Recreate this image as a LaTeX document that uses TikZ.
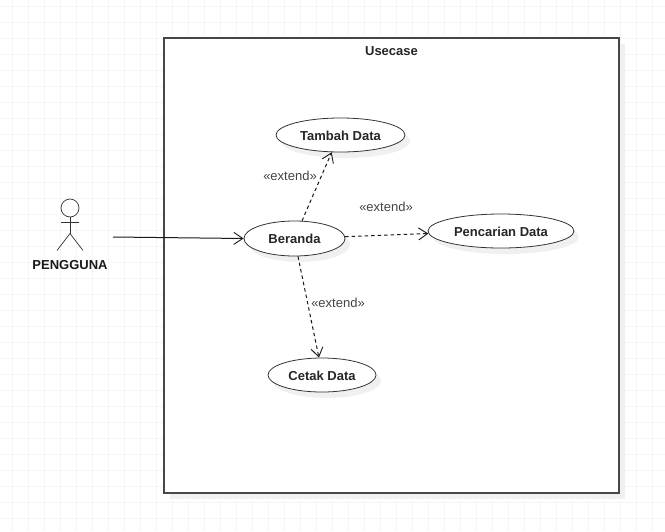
\documentclass[tikz,border=0pt]{standalone}
\usepackage{fontspec}
\setmainfont{Liberation Sans}
\usetikzlibrary{arrows.meta,shapes.geometric}
\definecolor{gridc}{HTML}{F5F5F5}
\definecolor{shadowc}{HTML}{F0F0F0}
\definecolor{linec}{HTML}{333333}
\definecolor{labelc}{HTML}{444444}
\tikzset{
  usecasebox/.style={ellipse,draw=linec,fill=white,line width=0.8pt,inner sep=0pt,text height=10.6pt,text depth=0pt,font=\fontsize{13}{15}\selectfont\bfseries,text=black!85},
  extlabel/.style={font=\fontsize{13}{15}\selectfont,text=labelc,inner sep=0pt},
  openhead/.style={-{Straight Barb[length=9pt,width=12pt,line width=0.9pt]}},
  assoc/.style={draw=black!90,line width=1pt,openhead},
  extendline/.style={draw=black!90,line width=1pt,dash pattern=on 3.5pt off 3pt,openhead},
  actorline/.style={draw=linec,line width=0.7pt},
  shadowfill/.style={fill=shadowc,draw=none}
}
\begin{document}
\begin{tikzpicture}[x=1pt,y=-1pt]
\useasboundingbox (0,0) rectangle (665,531);
\fill[white] (0,0) rectangle (665,531);
% grid
\foreach \i in {0,...,41} {\draw[gridc,line width=0.6pt] ({12.5+16*\i},0) -- ({12.5+16*\i},531);}
\foreach \j in {0,...,32} {\draw[gridc,line width=0.6pt] (0,{6.5+16*\j}) -- (665,{6.5+16*\j});}
% frame
\fill[shadowfill] (170,44) rectangle (625,499);
\node[draw=black!72,line width=1.1pt,fill=white,minimum width=455pt,minimum height=455pt,inner sep=0pt] (frame) at (391.5,265.5) {};
\node[font=\fontsize{13}{15}\selectfont\bfseries,text=black!85,inner sep=0pt] (title) at (391.5,50.7) {Usecase};
% shadows
\fill[shadowfill] (345.5,141) ellipse (64.5 and 17);
\fill[shadowfill] (299.5,244.5) ellipse (50.5 and 17.5);
\fill[shadowfill] (506,237) ellipse (73 and 17);
\fill[shadowfill] (327,381) ellipse (54 and 17);
% use cases
\node[usecasebox,minimum width=129pt,minimum height=34pt] (tambah) at (340.5,135) {Tambah Data};
\node[usecasebox,minimum width=101pt,minimum height=35pt] (beranda) at (294.5,238.5) {Beranda};
\node[usecasebox,minimum width=146pt,minimum height=34pt] (cari) at (501,231) {Pencarian Data};
\node[usecasebox,minimum width=108pt,minimum height=34pt] (cetak) at (322,375) {Cetak Data};
% actor
\node[circle,draw=linec,line width=0.7pt,fill=white,minimum size=18pt,inner sep=0pt] (head) at (70,208) {};
\coordinate (hip) at (70,233.5);
\coordinate (armL) at (61,222.5);
\coordinate (armR) at (79,222.5);
\coordinate (legL) at (57,250.5);
\coordinate (legR) at (83,250.5);
\draw[actorline] (head) -- (hip);
\draw[actorline] (armL) -- (armR);
\draw[actorline] (legL) -- (hip) -- (legR);
\node[font=\fontsize{13}{15}\selectfont\bfseries,text=black!90,inner sep=0pt] (actor) at (70,265) {PENGGUNA};
\coordinate (actorport) at (113,237);
% connectors
\draw[assoc] (actorport) -- (beranda.west);
\draw[extendline] (beranda.67) -- (tambah.243);
\draw[extendline] (beranda.2) -- (cari.182);
\draw[extendline] (beranda.281) -- (cetak.100);
% labels
\node[extlabel] (ext1) at (290,176) {«extend»};
\node[extlabel] (ext2) at (386,207) {«extend»};
\node[extlabel] (ext3) at (338,303) {«extend»};
\end{tikzpicture}
\end{document}
